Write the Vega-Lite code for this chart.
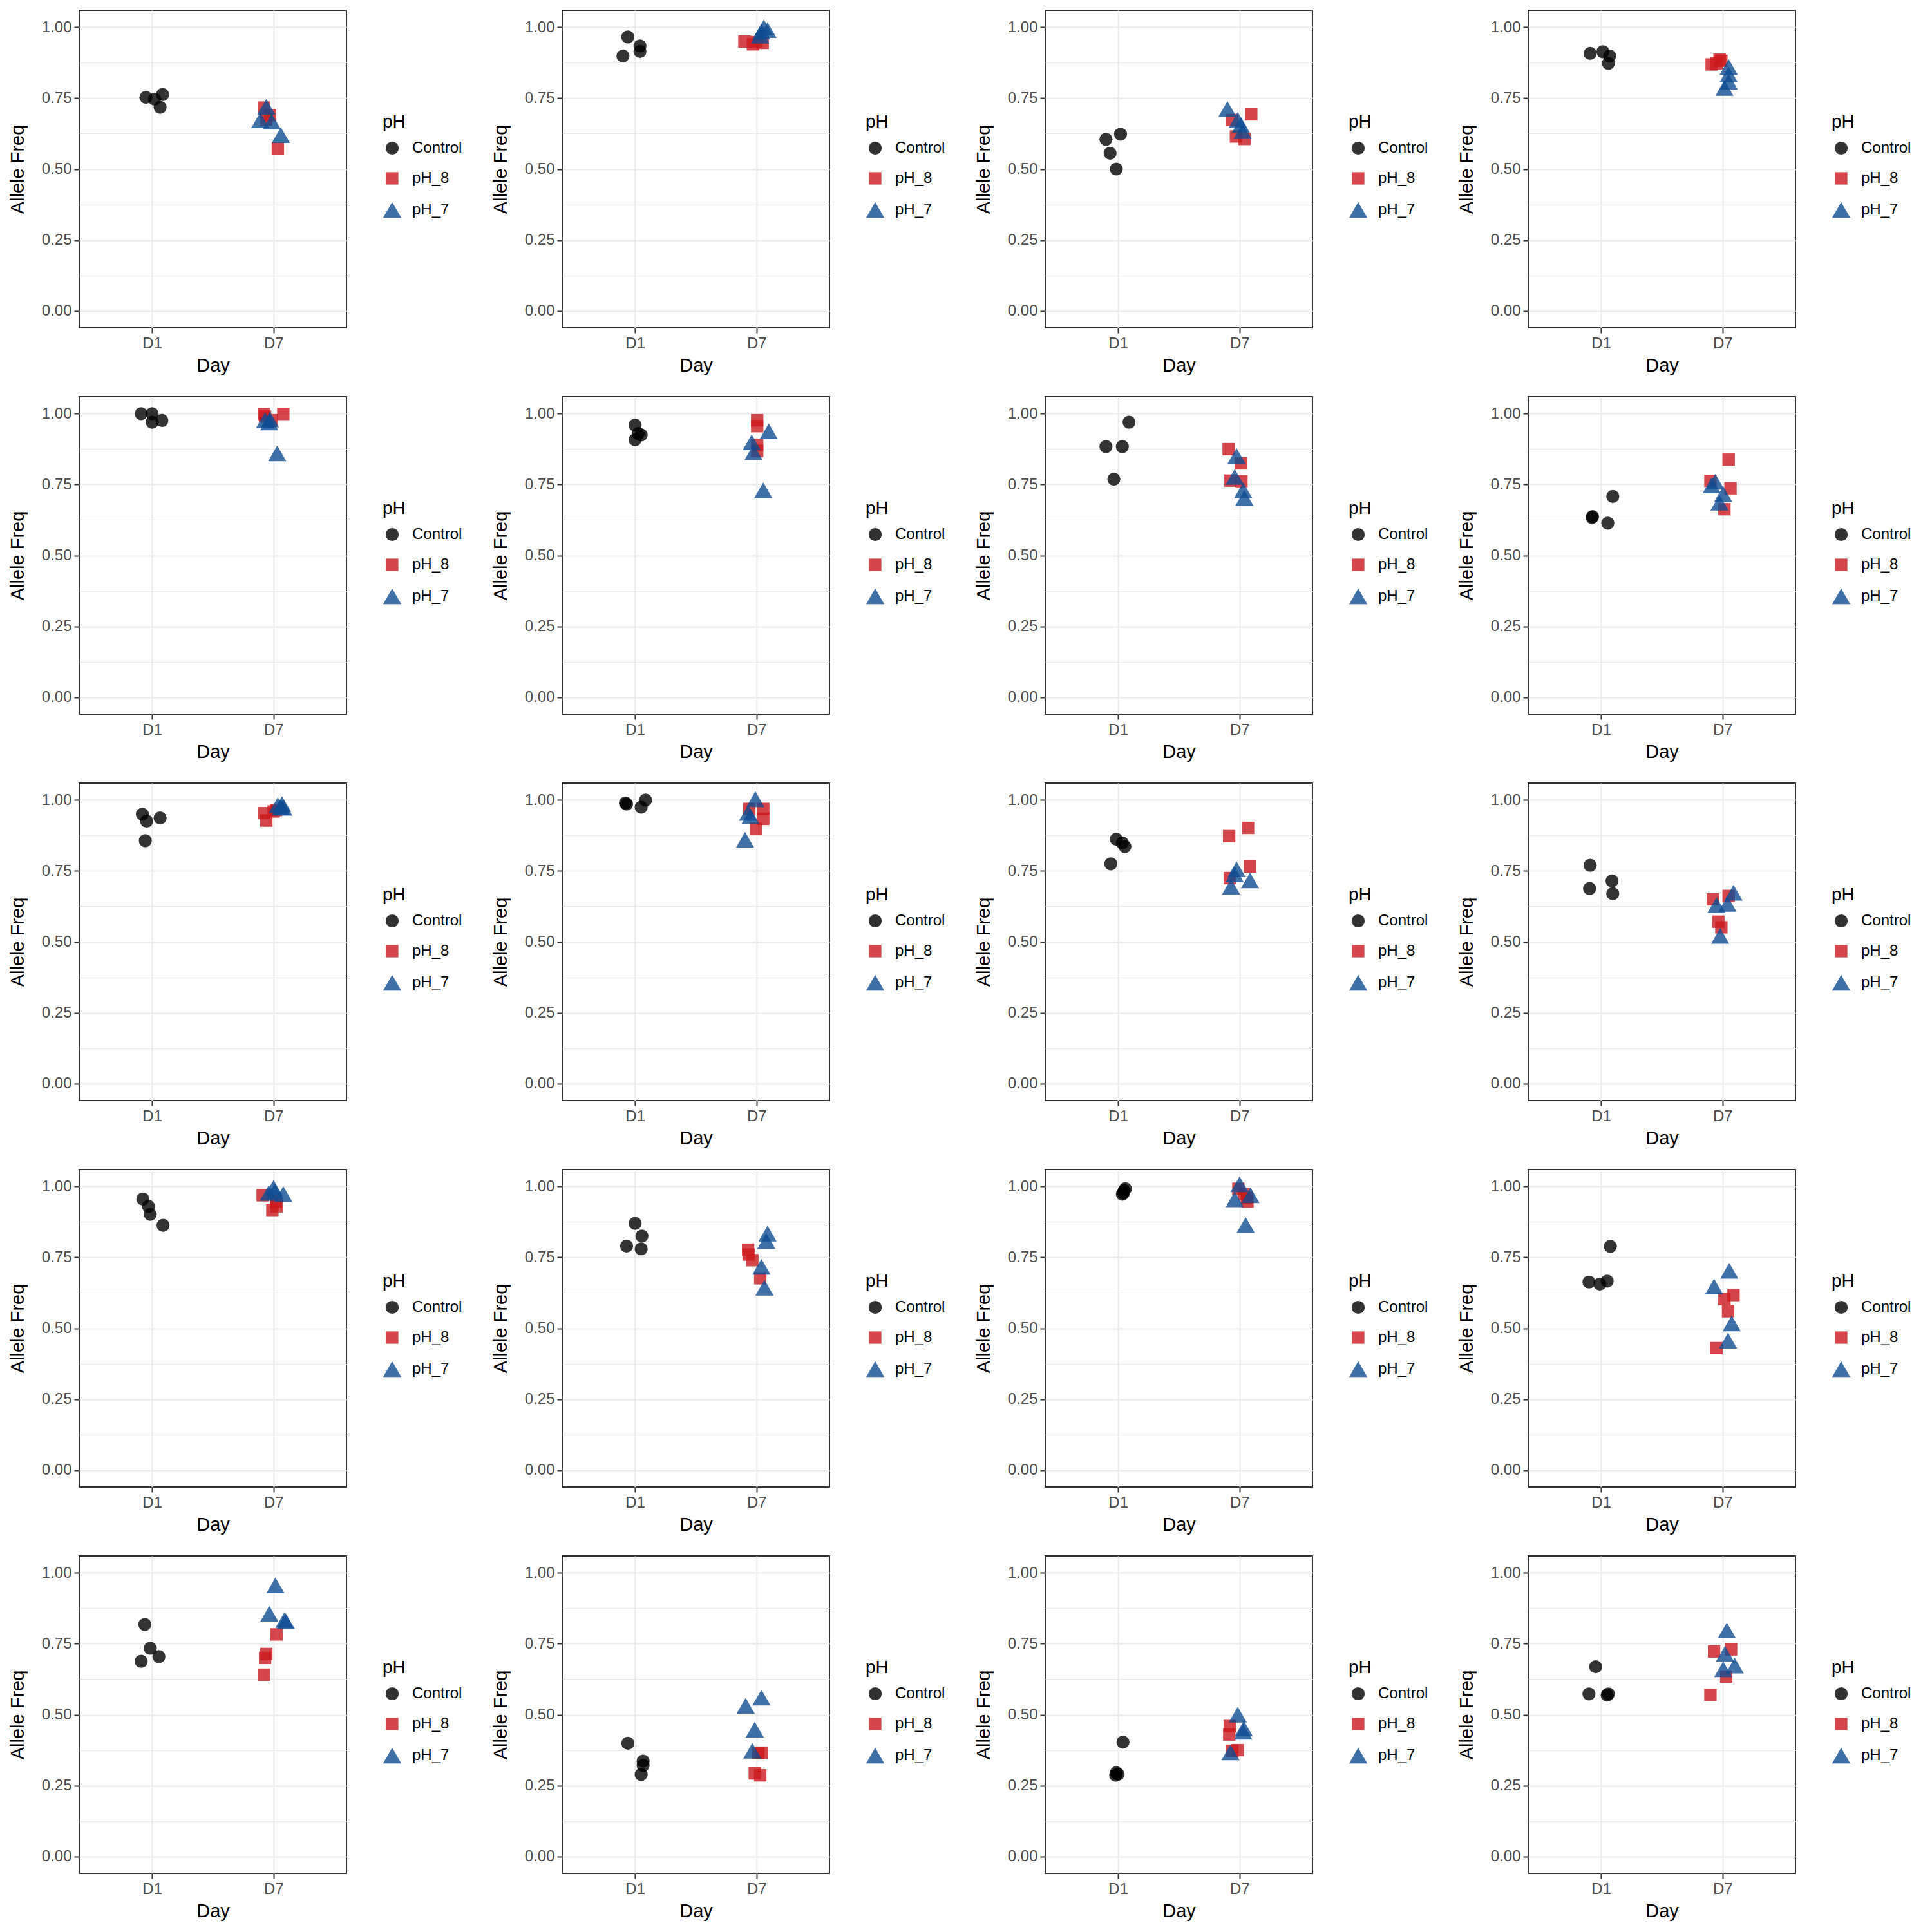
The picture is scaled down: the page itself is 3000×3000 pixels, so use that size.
{
"$schema":"https://vega.github.io/schema/vega-lite/v6.json",
"padding":{"left":12,"top":15,"right":5,"bottom":5},
"datasets":{"d":[
{"p":1,"pH":"Control","x":0.949,"y":0.753},{"p":1,"pH":"Control","x":1.02,"y":0.747},{"p":1,"pH":"Control","x":1.086,"y":0.763},{"p":1,"pH":"Control","x":1.066,"y":0.718},
{"p":1,"pH":"pH_8","x":1.92,"y":0.717},{"p":1,"pH":"pH_8","x":1.97,"y":0.69},{"p":1,"pH":"pH_8","x":1.94,"y":0.675},{"p":1,"pH":"pH_8","x":2.035,"y":0.573},
{"p":1,"pH":"pH_7","x":1.94,"y":0.72},{"p":1,"pH":"pH_7","x":1.89,"y":0.672},{"p":1,"pH":"pH_7","x":1.985,"y":0.668},{"p":1,"pH":"pH_7","x":2.06,"y":0.62},
{"p":2,"pH":"Control","x":0.94,"y":0.966},{"p":2,"pH":"Control","x":0.9,"y":0.899},{"p":2,"pH":"Control","x":1.04,"y":0.934},{"p":2,"pH":"Control","x":1.04,"y":0.915},
{"p":2,"pH":"pH_8","x":1.9,"y":0.95},{"p":2,"pH":"pH_8","x":1.97,"y":0.94},{"p":2,"pH":"pH_8","x":2.0,"y":0.948},{"p":2,"pH":"pH_8","x":2.05,"y":0.945},
{"p":2,"pH":"pH_7","x":2.06,"y":1.0},{"p":2,"pH":"pH_7","x":2.09,"y":0.99},{"p":2,"pH":"pH_7","x":2.03,"y":0.97},{"p":2,"pH":"pH_7","x":2.04,"y":0.985},
{"p":3,"pH":"Control","x":0.9,"y":0.605},{"p":3,"pH":"Control","x":1.02,"y":0.623},{"p":3,"pH":"Control","x":0.934,"y":0.556},{"p":3,"pH":"Control","x":0.985,"y":0.5},
{"p":3,"pH":"pH_8","x":1.94,"y":0.673},{"p":3,"pH":"pH_8","x":2.096,"y":0.693},{"p":3,"pH":"pH_8","x":1.97,"y":0.615},{"p":3,"pH":"pH_8","x":2.04,"y":0.606},
{"p":3,"pH":"pH_7","x":1.9,"y":0.712},{"p":3,"pH":"pH_7","x":1.985,"y":0.673},{"p":3,"pH":"pH_7","x":2.01,"y":0.656},{"p":3,"pH":"pH_7","x":2.025,"y":0.634},
{"p":4,"pH":"Control","x":0.91,"y":0.908},{"p":4,"pH":"Control","x":1.015,"y":0.914},{"p":4,"pH":"Control","x":1.07,"y":0.899},{"p":4,"pH":"Control","x":1.06,"y":0.873},
{"p":4,"pH":"pH_8","x":1.91,"y":0.869},{"p":4,"pH":"pH_8","x":1.975,"y":0.886},{"p":4,"pH":"pH_8","x":1.95,"y":0.873},{"p":4,"pH":"pH_8","x":1.99,"y":0.882},
{"p":4,"pH":"pH_7","x":2.05,"y":0.86},{"p":4,"pH":"pH_7","x":2.05,"y":0.834},{"p":4,"pH":"pH_7","x":2.05,"y":0.808},{"p":4,"pH":"pH_7","x":2.015,"y":0.786},
{"p":5,"pH":"Control","x":0.91,"y":1.0},{"p":5,"pH":"Control","x":1.0,"y":1.0},{"p":5,"pH":"Control","x":1.0,"y":0.97},{"p":5,"pH":"Control","x":1.08,"y":0.976},
{"p":5,"pH":"pH_8","x":1.92,"y":0.999},{"p":5,"pH":"pH_8","x":2.08,"y":0.999},{"p":5,"pH":"pH_8","x":1.985,"y":0.977},{"p":5,"pH":"pH_8","x":1.93,"y":0.99},
{"p":5,"pH":"pH_7","x":1.93,"y":0.977},{"p":5,"pH":"pH_7","x":1.97,"y":0.98},{"p":5,"pH":"pH_7","x":1.965,"y":0.969},{"p":5,"pH":"pH_7","x":2.03,"y":0.86},
{"p":6,"pH":"Control","x":1.0,"y":0.96},{"p":6,"pH":"Control","x":1.0,"y":0.908},{"p":6,"pH":"Control","x":1.025,"y":0.93},{"p":6,"pH":"Control","x":1.05,"y":0.925},
{"p":6,"pH":"pH_8","x":2.005,"y":0.977},{"p":6,"pH":"pH_8","x":2.005,"y":0.956},{"p":6,"pH":"pH_8","x":2.005,"y":0.89},{"p":6,"pH":"pH_8","x":2.005,"y":0.869},
{"p":6,"pH":"pH_7","x":2.1,"y":0.938},{"p":6,"pH":"pH_7","x":1.96,"y":0.899},{"p":6,"pH":"pH_7","x":1.975,"y":0.864},{"p":6,"pH":"pH_7","x":2.055,"y":0.73},
{"p":7,"pH":"Control","x":1.09,"y":0.97},{"p":7,"pH":"Control","x":0.9,"y":0.884},{"p":7,"pH":"Control","x":1.035,"y":0.884},{"p":7,"pH":"Control","x":0.965,"y":0.769},
{"p":7,"pH":"pH_8","x":1.91,"y":0.875},{"p":7,"pH":"pH_8","x":2.01,"y":0.825},{"p":7,"pH":"pH_8","x":1.925,"y":0.764},{"p":7,"pH":"pH_8","x":2.015,"y":0.762},
{"p":7,"pH":"pH_7","x":1.975,"y":0.851},{"p":7,"pH":"pH_7","x":1.96,"y":0.777},{"p":7,"pH":"pH_7","x":2.03,"y":0.73},{"p":7,"pH":"pH_7","x":2.04,"y":0.703},
{"p":8,"pH":"Control","x":0.93,"y":0.637},{"p":8,"pH":"Control","x":0.925,"y":0.634},{"p":8,"pH":"Control","x":1.055,"y":0.614},{"p":8,"pH":"Control","x":1.096,"y":0.708},
{"p":8,"pH":"pH_8","x":2.05,"y":0.838},{"p":8,"pH":"pH_8","x":1.9,"y":0.763},{"p":8,"pH":"pH_8","x":2.065,"y":0.737},{"p":8,"pH":"pH_8","x":2.015,"y":0.663},
{"p":8,"pH":"pH_7","x":1.94,"y":0.76},{"p":8,"pH":"pH_7","x":2.005,"y":0.717},{"p":8,"pH":"pH_7","x":1.975,"y":0.686},{"p":8,"pH":"pH_7","x":1.91,"y":0.747},
{"p":9,"pH":"Control","x":0.92,"y":0.95},{"p":9,"pH":"Control","x":0.955,"y":0.926},{"p":9,"pH":"Control","x":1.066,"y":0.937},{"p":9,"pH":"Control","x":0.944,"y":0.857},
{"p":9,"pH":"pH_8","x":1.92,"y":0.954},{"p":9,"pH":"pH_8","x":1.94,"y":0.928},{"p":9,"pH":"pH_8","x":2.02,"y":0.965},{"p":9,"pH":"pH_8","x":2.0,"y":0.96},
{"p":9,"pH":"pH_7","x":2.07,"y":0.986},{"p":9,"pH":"pH_7","x":2.08,"y":0.973},{"p":9,"pH":"pH_7","x":2.06,"y":0.975},{"p":9,"pH":"pH_7","x":2.035,"y":0.982},
{"p":10,"pH":"Control","x":0.92,"y":0.99},{"p":10,"pH":"Control","x":1.086,"y":1.0},{"p":10,"pH":"Control","x":1.05,"y":0.975},{"p":10,"pH":"Control","x":0.93,"y":0.986},
{"p":10,"pH":"pH_8","x":1.94,"y":0.969},{"p":10,"pH":"pH_8","x":2.055,"y":0.969},{"p":10,"pH":"pH_8","x":2.055,"y":0.934},{"p":10,"pH":"pH_8","x":1.995,"y":0.899},
{"p":10,"pH":"pH_7","x":1.99,"y":1.003},{"p":10,"pH":"pH_7","x":1.93,"y":0.955},{"p":10,"pH":"pH_7","x":1.95,"y":0.943},{"p":10,"pH":"pH_7","x":1.905,"y":0.86},
{"p":11,"pH":"Control","x":0.985,"y":0.862},{"p":11,"pH":"Control","x":1.035,"y":0.849},{"p":11,"pH":"Control","x":1.056,"y":0.836},{"p":11,"pH":"Control","x":0.94,"y":0.775},
{"p":11,"pH":"pH_8","x":1.914,"y":0.873},{"p":11,"pH":"pH_8","x":2.07,"y":0.902},{"p":11,"pH":"pH_8","x":2.086,"y":0.766},{"p":11,"pH":"pH_8","x":1.92,"y":0.725},
{"p":11,"pH":"pH_7","x":1.975,"y":0.756},{"p":11,"pH":"pH_7","x":1.93,"y":0.695},{"p":11,"pH":"pH_7","x":2.086,"y":0.717},{"p":11,"pH":"pH_7","x":1.96,"y":0.738},
{"p":12,"pH":"Control","x":0.91,"y":0.77},{"p":12,"pH":"Control","x":0.905,"y":0.688},{"p":12,"pH":"Control","x":1.09,"y":0.715},{"p":12,"pH":"Control","x":1.096,"y":0.67},
{"p":12,"pH":"pH_8","x":1.92,"y":0.65},{"p":12,"pH":"pH_8","x":2.05,"y":0.662},{"p":12,"pH":"pH_8","x":1.965,"y":0.571},{"p":12,"pH":"pH_8","x":1.99,"y":0.551},
{"p":12,"pH":"pH_7","x":1.95,"y":0.63},{"p":12,"pH":"pH_7","x":2.04,"y":0.634},{"p":12,"pH":"pH_7","x":2.09,"y":0.673},{"p":12,"pH":"pH_7","x":1.98,"y":0.521},
{"p":13,"pH":"Control","x":0.924,"y":0.956},{"p":13,"pH":"Control","x":0.97,"y":0.93},{"p":13,"pH":"Control","x":0.985,"y":0.902},{"p":13,"pH":"Control","x":1.09,"y":0.863},
{"p":13,"pH":"pH_8","x":1.91,"y":0.969},{"p":13,"pH":"pH_8","x":2.02,"y":0.947},{"p":13,"pH":"pH_8","x":1.99,"y":0.917},{"p":13,"pH":"pH_8","x":2.025,"y":0.93},
{"p":13,"pH":"pH_7","x":2.0,"y":0.995},{"p":13,"pH":"pH_7","x":2.08,"y":0.973},{"p":13,"pH":"pH_7","x":1.96,"y":0.977},{"p":13,"pH":"pH_7","x":2.01,"y":0.983},
{"p":14,"pH":"Control","x":1.0,"y":0.87},{"p":14,"pH":"Control","x":1.056,"y":0.825},{"p":14,"pH":"Control","x":0.93,"y":0.79},{"p":14,"pH":"Control","x":1.05,"y":0.78},
{"p":14,"pH":"pH_8","x":1.93,"y":0.777},{"p":14,"pH":"pH_8","x":1.935,"y":0.76},{"p":14,"pH":"pH_8","x":1.965,"y":0.74},{"p":14,"pH":"pH_8","x":2.03,"y":0.676},
{"p":14,"pH":"pH_7","x":2.09,"y":0.834},{"p":14,"pH":"pH_7","x":2.08,"y":0.808},{"p":14,"pH":"pH_7","x":2.04,"y":0.717},{"p":14,"pH":"pH_7","x":2.065,"y":0.643},
{"p":15,"pH":"Control","x":1.05,"y":0.986},{"p":15,"pH":"Control","x":1.045,"y":0.977},{"p":15,"pH":"Control","x":1.035,"y":0.973},{"p":15,"pH":"Control","x":1.06,"y":0.992},
{"p":15,"pH":"pH_8","x":1.99,"y":0.992},{"p":15,"pH":"pH_8","x":2.06,"y":0.96},{"p":15,"pH":"pH_8","x":2.035,"y":0.973},{"p":15,"pH":"pH_8","x":2.065,"y":0.947},
{"p":15,"pH":"pH_7","x":2.0,"y":1.008},{"p":15,"pH":"pH_7","x":1.96,"y":0.955},{"p":15,"pH":"pH_7","x":2.09,"y":0.969},{"p":15,"pH":"pH_7","x":2.05,"y":0.864},
{"p":16,"pH":"Control","x":1.076,"y":0.789},{"p":16,"pH":"Control","x":0.9,"y":0.663},{"p":16,"pH":"Control","x":0.99,"y":0.656},{"p":16,"pH":"Control","x":1.05,"y":0.666},
{"p":16,"pH":"pH_8","x":2.015,"y":0.603},{"p":16,"pH":"pH_8","x":2.09,"y":0.617},{"p":16,"pH":"pH_8","x":2.045,"y":0.56},{"p":16,"pH":"pH_8","x":1.95,"y":0.43},
{"p":16,"pH":"pH_7","x":2.055,"y":0.703},{"p":16,"pH":"pH_7","x":1.93,"y":0.647},{"p":16,"pH":"pH_7","x":2.075,"y":0.517},{"p":16,"pH":"pH_7","x":2.045,"y":0.456},
{"p":17,"pH":"Control","x":0.94,"y":0.818},{"p":17,"pH":"Control","x":0.985,"y":0.734},{"p":17,"pH":"Control","x":1.056,"y":0.705},{"p":17,"pH":"Control","x":0.91,"y":0.688},
{"p":17,"pH":"pH_8","x":2.025,"y":0.783},{"p":17,"pH":"pH_8","x":1.94,"y":0.714},{"p":17,"pH":"pH_8","x":1.93,"y":0.7},{"p":17,"pH":"pH_8","x":1.92,"y":0.641},
{"p":17,"pH":"pH_7","x":2.015,"y":0.956},{"p":17,"pH":"pH_7","x":1.965,"y":0.856},{"p":17,"pH":"pH_7","x":2.09,"y":0.834},{"p":17,"pH":"pH_7","x":2.1,"y":0.83},
{"p":18,"pH":"Control","x":0.94,"y":0.399},{"p":18,"pH":"Control","x":1.066,"y":0.336},{"p":18,"pH":"Control","x":1.066,"y":0.321},{"p":18,"pH":"Control","x":1.05,"y":0.289},
{"p":18,"pH":"pH_8","x":2.04,"y":0.366},{"p":18,"pH":"pH_8","x":2.015,"y":0.364},{"p":18,"pH":"pH_8","x":1.985,"y":0.293},{"p":18,"pH":"pH_8","x":2.03,"y":0.286},
{"p":18,"pH":"pH_7","x":1.91,"y":0.531},{"p":18,"pH":"pH_7","x":2.04,"y":0.56},{"p":18,"pH":"pH_7","x":1.985,"y":0.447},{"p":18,"pH":"pH_7","x":1.965,"y":0.373},
{"p":19,"pH":"Control","x":1.04,"y":0.403},{"p":19,"pH":"Control","x":0.985,"y":0.295},{"p":19,"pH":"Control","x":0.98,"y":0.286},{"p":19,"pH":"Control","x":1.0,"y":0.29},
{"p":19,"pH":"pH_8","x":1.92,"y":0.46},{"p":19,"pH":"pH_8","x":1.915,"y":0.43},{"p":19,"pH":"pH_8","x":1.985,"y":0.375},{"p":19,"pH":"pH_8","x":1.94,"y":0.373},
{"p":19,"pH":"pH_7","x":1.985,"y":0.5},{"p":19,"pH":"pH_7","x":2.035,"y":0.451},{"p":19,"pH":"pH_7","x":2.03,"y":0.44},{"p":19,"pH":"pH_7","x":1.925,"y":0.367},
{"p":20,"pH":"Control","x":0.955,"y":0.669},{"p":20,"pH":"Control","x":0.9,"y":0.573},{"p":20,"pH":"Control","x":1.05,"y":0.569},{"p":20,"pH":"Control","x":1.06,"y":0.573},
{"p":20,"pH":"pH_8","x":1.93,"y":0.723},{"p":20,"pH":"pH_8","x":2.07,"y":0.73},{"p":20,"pH":"pH_8","x":2.03,"y":0.634},{"p":20,"pH":"pH_8","x":1.9,"y":0.57},
{"p":20,"pH":"pH_7","x":2.035,"y":0.797},{"p":20,"pH":"pH_7","x":2.02,"y":0.715},{"p":20,"pH":"pH_7","x":2.005,"y":0.66},{"p":20,"pH":"pH_7","x":2.1,"y":0.673}
]},
"data":{"name":"d"},
"columns":4,
"bounds":"flush",
"spacing":{"row":107,"column":335},
"resolve":{"scale":{"color":"independent","shape":"independent","size":"independent"},"legend":{"color":"independent","shape":"independent","size":"independent"}},
"concat":[
{"transform":[{"filter":"datum.p==1"}],"width":415,"height":493,"mark":{"type":"point","filled":true,"opacity":0.8},"encoding":{"x":{"field":"x","type":"quantitative","scale":{"domain":[0.4,2.6],"nice":false,"zero":false},"axis":{"title":"Day","values":[1,2],"labelExpr":"datum.value==1?'D1':'D7'"}},"y":{"field":"y","type":"quantitative","scale":{"domain":[-0.06,1.06],"nice":false,"zero":false},"axis":{"title":"Allele Freq","values":[0,0.125,0.25,0.375,0.5,0.625,0.75,0.875,1],"labelOverlap":false,"labelExpr":"(datum.value*8)%2==1?'':format(datum.value,'.2f')","tickOpacity":{"condition":{"test":"(datum.value*8)%2==1","value":0},"value":1},"gridWidth":{"condition":{"test":"(datum.value*8)%2==1","value":1},"value":2}}},"color":{"field":"pH","type":"nominal","scale":{"domain":["Control","pH_8","pH_7"],"range":["#000000","#CB181D","#0F4C92"]},"legend":{"title":"pH","orient":"none","legendX":471,"legendY":160}},"shape":{"field":"pH","type":"nominal","scale":{"domain":["Control","pH_8","pH_7"],"range":["circle","square","triangle-up"]},"legend":{"title":"pH","orient":"none","legendX":471,"legendY":160}},"size":{"field":"pH","type":"nominal","scale":{"type":"ordinal","domain":["Control","pH_8","pH_7"],"range":[410,370,800]},"legend":{"title":"pH","orient":"none","legendX":471,"legendY":160}}}},
{"transform":[{"filter":"datum.p==2"}],"width":415,"height":493,"mark":{"type":"point","filled":true,"opacity":0.8},"encoding":{"x":{"field":"x","type":"quantitative","scale":{"domain":[0.4,2.6],"nice":false,"zero":false},"axis":{"title":"Day","values":[1,2],"labelExpr":"datum.value==1?'D1':'D7'"}},"y":{"field":"y","type":"quantitative","scale":{"domain":[-0.06,1.06],"nice":false,"zero":false},"axis":{"title":"Allele Freq","values":[0,0.125,0.25,0.375,0.5,0.625,0.75,0.875,1],"labelOverlap":false,"labelExpr":"(datum.value*8)%2==1?'':format(datum.value,'.2f')","tickOpacity":{"condition":{"test":"(datum.value*8)%2==1","value":0},"value":1},"gridWidth":{"condition":{"test":"(datum.value*8)%2==1","value":1},"value":2}}},"color":{"field":"pH","type":"nominal","scale":{"domain":["Control","pH_8","pH_7"],"range":["#000000","#CB181D","#0F4C92"]},"legend":{"title":"pH","orient":"none","legendX":471,"legendY":160}},"shape":{"field":"pH","type":"nominal","scale":{"domain":["Control","pH_8","pH_7"],"range":["circle","square","triangle-up"]},"legend":{"title":"pH","orient":"none","legendX":471,"legendY":160}},"size":{"field":"pH","type":"nominal","scale":{"type":"ordinal","domain":["Control","pH_8","pH_7"],"range":[410,370,800]},"legend":{"title":"pH","orient":"none","legendX":471,"legendY":160}}}},
{"transform":[{"filter":"datum.p==3"}],"width":415,"height":493,"mark":{"type":"point","filled":true,"opacity":0.8},"encoding":{"x":{"field":"x","type":"quantitative","scale":{"domain":[0.4,2.6],"nice":false,"zero":false},"axis":{"title":"Day","values":[1,2],"labelExpr":"datum.value==1?'D1':'D7'"}},"y":{"field":"y","type":"quantitative","scale":{"domain":[-0.06,1.06],"nice":false,"zero":false},"axis":{"title":"Allele Freq","values":[0,0.125,0.25,0.375,0.5,0.625,0.75,0.875,1],"labelOverlap":false,"labelExpr":"(datum.value*8)%2==1?'':format(datum.value,'.2f')","tickOpacity":{"condition":{"test":"(datum.value*8)%2==1","value":0},"value":1},"gridWidth":{"condition":{"test":"(datum.value*8)%2==1","value":1},"value":2}}},"color":{"field":"pH","type":"nominal","scale":{"domain":["Control","pH_8","pH_7"],"range":["#000000","#CB181D","#0F4C92"]},"legend":{"title":"pH","orient":"none","legendX":471,"legendY":160}},"shape":{"field":"pH","type":"nominal","scale":{"domain":["Control","pH_8","pH_7"],"range":["circle","square","triangle-up"]},"legend":{"title":"pH","orient":"none","legendX":471,"legendY":160}},"size":{"field":"pH","type":"nominal","scale":{"type":"ordinal","domain":["Control","pH_8","pH_7"],"range":[410,370,800]},"legend":{"title":"pH","orient":"none","legendX":471,"legendY":160}}}},
{"transform":[{"filter":"datum.p==4"}],"width":415,"height":493,"mark":{"type":"point","filled":true,"opacity":0.8},"encoding":{"x":{"field":"x","type":"quantitative","scale":{"domain":[0.4,2.6],"nice":false,"zero":false},"axis":{"title":"Day","values":[1,2],"labelExpr":"datum.value==1?'D1':'D7'"}},"y":{"field":"y","type":"quantitative","scale":{"domain":[-0.06,1.06],"nice":false,"zero":false},"axis":{"title":"Allele Freq","values":[0,0.125,0.25,0.375,0.5,0.625,0.75,0.875,1],"labelOverlap":false,"labelExpr":"(datum.value*8)%2==1?'':format(datum.value,'.2f')","tickOpacity":{"condition":{"test":"(datum.value*8)%2==1","value":0},"value":1},"gridWidth":{"condition":{"test":"(datum.value*8)%2==1","value":1},"value":2}}},"color":{"field":"pH","type":"nominal","scale":{"domain":["Control","pH_8","pH_7"],"range":["#000000","#CB181D","#0F4C92"]},"legend":{"title":"pH","orient":"none","legendX":471,"legendY":160}},"shape":{"field":"pH","type":"nominal","scale":{"domain":["Control","pH_8","pH_7"],"range":["circle","square","triangle-up"]},"legend":{"title":"pH","orient":"none","legendX":471,"legendY":160}},"size":{"field":"pH","type":"nominal","scale":{"type":"ordinal","domain":["Control","pH_8","pH_7"],"range":[410,370,800]},"legend":{"title":"pH","orient":"none","legendX":471,"legendY":160}}}},
{"transform":[{"filter":"datum.p==5"}],"width":415,"height":493,"mark":{"type":"point","filled":true,"opacity":0.8},"encoding":{"x":{"field":"x","type":"quantitative","scale":{"domain":[0.4,2.6],"nice":false,"zero":false},"axis":{"title":"Day","values":[1,2],"labelExpr":"datum.value==1?'D1':'D7'"}},"y":{"field":"y","type":"quantitative","scale":{"domain":[-0.06,1.06],"nice":false,"zero":false},"axis":{"title":"Allele Freq","values":[0,0.125,0.25,0.375,0.5,0.625,0.75,0.875,1],"labelOverlap":false,"labelExpr":"(datum.value*8)%2==1?'':format(datum.value,'.2f')","tickOpacity":{"condition":{"test":"(datum.value*8)%2==1","value":0},"value":1},"gridWidth":{"condition":{"test":"(datum.value*8)%2==1","value":1},"value":2}}},"color":{"field":"pH","type":"nominal","scale":{"domain":["Control","pH_8","pH_7"],"range":["#000000","#CB181D","#0F4C92"]},"legend":{"title":"pH","orient":"none","legendX":471,"legendY":160}},"shape":{"field":"pH","type":"nominal","scale":{"domain":["Control","pH_8","pH_7"],"range":["circle","square","triangle-up"]},"legend":{"title":"pH","orient":"none","legendX":471,"legendY":160}},"size":{"field":"pH","type":"nominal","scale":{"type":"ordinal","domain":["Control","pH_8","pH_7"],"range":[410,370,800]},"legend":{"title":"pH","orient":"none","legendX":471,"legendY":160}}}},
{"transform":[{"filter":"datum.p==6"}],"width":415,"height":493,"mark":{"type":"point","filled":true,"opacity":0.8},"encoding":{"x":{"field":"x","type":"quantitative","scale":{"domain":[0.4,2.6],"nice":false,"zero":false},"axis":{"title":"Day","values":[1,2],"labelExpr":"datum.value==1?'D1':'D7'"}},"y":{"field":"y","type":"quantitative","scale":{"domain":[-0.06,1.06],"nice":false,"zero":false},"axis":{"title":"Allele Freq","values":[0,0.125,0.25,0.375,0.5,0.625,0.75,0.875,1],"labelOverlap":false,"labelExpr":"(datum.value*8)%2==1?'':format(datum.value,'.2f')","tickOpacity":{"condition":{"test":"(datum.value*8)%2==1","value":0},"value":1},"gridWidth":{"condition":{"test":"(datum.value*8)%2==1","value":1},"value":2}}},"color":{"field":"pH","type":"nominal","scale":{"domain":["Control","pH_8","pH_7"],"range":["#000000","#CB181D","#0F4C92"]},"legend":{"title":"pH","orient":"none","legendX":471,"legendY":160}},"shape":{"field":"pH","type":"nominal","scale":{"domain":["Control","pH_8","pH_7"],"range":["circle","square","triangle-up"]},"legend":{"title":"pH","orient":"none","legendX":471,"legendY":160}},"size":{"field":"pH","type":"nominal","scale":{"type":"ordinal","domain":["Control","pH_8","pH_7"],"range":[410,370,800]},"legend":{"title":"pH","orient":"none","legendX":471,"legendY":160}}}},
{"transform":[{"filter":"datum.p==7"}],"width":415,"height":493,"mark":{"type":"point","filled":true,"opacity":0.8},"encoding":{"x":{"field":"x","type":"quantitative","scale":{"domain":[0.4,2.6],"nice":false,"zero":false},"axis":{"title":"Day","values":[1,2],"labelExpr":"datum.value==1?'D1':'D7'"}},"y":{"field":"y","type":"quantitative","scale":{"domain":[-0.06,1.06],"nice":false,"zero":false},"axis":{"title":"Allele Freq","values":[0,0.125,0.25,0.375,0.5,0.625,0.75,0.875,1],"labelOverlap":false,"labelExpr":"(datum.value*8)%2==1?'':format(datum.value,'.2f')","tickOpacity":{"condition":{"test":"(datum.value*8)%2==1","value":0},"value":1},"gridWidth":{"condition":{"test":"(datum.value*8)%2==1","value":1},"value":2}}},"color":{"field":"pH","type":"nominal","scale":{"domain":["Control","pH_8","pH_7"],"range":["#000000","#CB181D","#0F4C92"]},"legend":{"title":"pH","orient":"none","legendX":471,"legendY":160}},"shape":{"field":"pH","type":"nominal","scale":{"domain":["Control","pH_8","pH_7"],"range":["circle","square","triangle-up"]},"legend":{"title":"pH","orient":"none","legendX":471,"legendY":160}},"size":{"field":"pH","type":"nominal","scale":{"type":"ordinal","domain":["Control","pH_8","pH_7"],"range":[410,370,800]},"legend":{"title":"pH","orient":"none","legendX":471,"legendY":160}}}},
{"transform":[{"filter":"datum.p==8"}],"width":415,"height":493,"mark":{"type":"point","filled":true,"opacity":0.8},"encoding":{"x":{"field":"x","type":"quantitative","scale":{"domain":[0.4,2.6],"nice":false,"zero":false},"axis":{"title":"Day","values":[1,2],"labelExpr":"datum.value==1?'D1':'D7'"}},"y":{"field":"y","type":"quantitative","scale":{"domain":[-0.06,1.06],"nice":false,"zero":false},"axis":{"title":"Allele Freq","values":[0,0.125,0.25,0.375,0.5,0.625,0.75,0.875,1],"labelOverlap":false,"labelExpr":"(datum.value*8)%2==1?'':format(datum.value,'.2f')","tickOpacity":{"condition":{"test":"(datum.value*8)%2==1","value":0},"value":1},"gridWidth":{"condition":{"test":"(datum.value*8)%2==1","value":1},"value":2}}},"color":{"field":"pH","type":"nominal","scale":{"domain":["Control","pH_8","pH_7"],"range":["#000000","#CB181D","#0F4C92"]},"legend":{"title":"pH","orient":"none","legendX":471,"legendY":160}},"shape":{"field":"pH","type":"nominal","scale":{"domain":["Control","pH_8","pH_7"],"range":["circle","square","triangle-up"]},"legend":{"title":"pH","orient":"none","legendX":471,"legendY":160}},"size":{"field":"pH","type":"nominal","scale":{"type":"ordinal","domain":["Control","pH_8","pH_7"],"range":[410,370,800]},"legend":{"title":"pH","orient":"none","legendX":471,"legendY":160}}}},
{"transform":[{"filter":"datum.p==9"}],"width":415,"height":493,"mark":{"type":"point","filled":true,"opacity":0.8},"encoding":{"x":{"field":"x","type":"quantitative","scale":{"domain":[0.4,2.6],"nice":false,"zero":false},"axis":{"title":"Day","values":[1,2],"labelExpr":"datum.value==1?'D1':'D7'"}},"y":{"field":"y","type":"quantitative","scale":{"domain":[-0.06,1.06],"nice":false,"zero":false},"axis":{"title":"Allele Freq","values":[0,0.125,0.25,0.375,0.5,0.625,0.75,0.875,1],"labelOverlap":false,"labelExpr":"(datum.value*8)%2==1?'':format(datum.value,'.2f')","tickOpacity":{"condition":{"test":"(datum.value*8)%2==1","value":0},"value":1},"gridWidth":{"condition":{"test":"(datum.value*8)%2==1","value":1},"value":2}}},"color":{"field":"pH","type":"nominal","scale":{"domain":["Control","pH_8","pH_7"],"range":["#000000","#CB181D","#0F4C92"]},"legend":{"title":"pH","orient":"none","legendX":471,"legendY":160}},"shape":{"field":"pH","type":"nominal","scale":{"domain":["Control","pH_8","pH_7"],"range":["circle","square","triangle-up"]},"legend":{"title":"pH","orient":"none","legendX":471,"legendY":160}},"size":{"field":"pH","type":"nominal","scale":{"type":"ordinal","domain":["Control","pH_8","pH_7"],"range":[410,370,800]},"legend":{"title":"pH","orient":"none","legendX":471,"legendY":160}}}},
{"transform":[{"filter":"datum.p==10"}],"width":415,"height":493,"mark":{"type":"point","filled":true,"opacity":0.8},"encoding":{"x":{"field":"x","type":"quantitative","scale":{"domain":[0.4,2.6],"nice":false,"zero":false},"axis":{"title":"Day","values":[1,2],"labelExpr":"datum.value==1?'D1':'D7'"}},"y":{"field":"y","type":"quantitative","scale":{"domain":[-0.06,1.06],"nice":false,"zero":false},"axis":{"title":"Allele Freq","values":[0,0.125,0.25,0.375,0.5,0.625,0.75,0.875,1],"labelOverlap":false,"labelExpr":"(datum.value*8)%2==1?'':format(datum.value,'.2f')","tickOpacity":{"condition":{"test":"(datum.value*8)%2==1","value":0},"value":1},"gridWidth":{"condition":{"test":"(datum.value*8)%2==1","value":1},"value":2}}},"color":{"field":"pH","type":"nominal","scale":{"domain":["Control","pH_8","pH_7"],"range":["#000000","#CB181D","#0F4C92"]},"legend":{"title":"pH","orient":"none","legendX":471,"legendY":160}},"shape":{"field":"pH","type":"nominal","scale":{"domain":["Control","pH_8","pH_7"],"range":["circle","square","triangle-up"]},"legend":{"title":"pH","orient":"none","legendX":471,"legendY":160}},"size":{"field":"pH","type":"nominal","scale":{"type":"ordinal","domain":["Control","pH_8","pH_7"],"range":[410,370,800]},"legend":{"title":"pH","orient":"none","legendX":471,"legendY":160}}}},
{"transform":[{"filter":"datum.p==11"}],"width":415,"height":493,"mark":{"type":"point","filled":true,"opacity":0.8},"encoding":{"x":{"field":"x","type":"quantitative","scale":{"domain":[0.4,2.6],"nice":false,"zero":false},"axis":{"title":"Day","values":[1,2],"labelExpr":"datum.value==1?'D1':'D7'"}},"y":{"field":"y","type":"quantitative","scale":{"domain":[-0.06,1.06],"nice":false,"zero":false},"axis":{"title":"Allele Freq","values":[0,0.125,0.25,0.375,0.5,0.625,0.75,0.875,1],"labelOverlap":false,"labelExpr":"(datum.value*8)%2==1?'':format(datum.value,'.2f')","tickOpacity":{"condition":{"test":"(datum.value*8)%2==1","value":0},"value":1},"gridWidth":{"condition":{"test":"(datum.value*8)%2==1","value":1},"value":2}}},"color":{"field":"pH","type":"nominal","scale":{"domain":["Control","pH_8","pH_7"],"range":["#000000","#CB181D","#0F4C92"]},"legend":{"title":"pH","orient":"none","legendX":471,"legendY":160}},"shape":{"field":"pH","type":"nominal","scale":{"domain":["Control","pH_8","pH_7"],"range":["circle","square","triangle-up"]},"legend":{"title":"pH","orient":"none","legendX":471,"legendY":160}},"size":{"field":"pH","type":"nominal","scale":{"type":"ordinal","domain":["Control","pH_8","pH_7"],"range":[410,370,800]},"legend":{"title":"pH","orient":"none","legendX":471,"legendY":160}}}},
{"transform":[{"filter":"datum.p==12"}],"width":415,"height":493,"mark":{"type":"point","filled":true,"opacity":0.8},"encoding":{"x":{"field":"x","type":"quantitative","scale":{"domain":[0.4,2.6],"nice":false,"zero":false},"axis":{"title":"Day","values":[1,2],"labelExpr":"datum.value==1?'D1':'D7'"}},"y":{"field":"y","type":"quantitative","scale":{"domain":[-0.06,1.06],"nice":false,"zero":false},"axis":{"title":"Allele Freq","values":[0,0.125,0.25,0.375,0.5,0.625,0.75,0.875,1],"labelOverlap":false,"labelExpr":"(datum.value*8)%2==1?'':format(datum.value,'.2f')","tickOpacity":{"condition":{"test":"(datum.value*8)%2==1","value":0},"value":1},"gridWidth":{"condition":{"test":"(datum.value*8)%2==1","value":1},"value":2}}},"color":{"field":"pH","type":"nominal","scale":{"domain":["Control","pH_8","pH_7"],"range":["#000000","#CB181D","#0F4C92"]},"legend":{"title":"pH","orient":"none","legendX":471,"legendY":160}},"shape":{"field":"pH","type":"nominal","scale":{"domain":["Control","pH_8","pH_7"],"range":["circle","square","triangle-up"]},"legend":{"title":"pH","orient":"none","legendX":471,"legendY":160}},"size":{"field":"pH","type":"nominal","scale":{"type":"ordinal","domain":["Control","pH_8","pH_7"],"range":[410,370,800]},"legend":{"title":"pH","orient":"none","legendX":471,"legendY":160}}}},
{"transform":[{"filter":"datum.p==13"}],"width":415,"height":493,"mark":{"type":"point","filled":true,"opacity":0.8},"encoding":{"x":{"field":"x","type":"quantitative","scale":{"domain":[0.4,2.6],"nice":false,"zero":false},"axis":{"title":"Day","values":[1,2],"labelExpr":"datum.value==1?'D1':'D7'"}},"y":{"field":"y","type":"quantitative","scale":{"domain":[-0.06,1.06],"nice":false,"zero":false},"axis":{"title":"Allele Freq","values":[0,0.125,0.25,0.375,0.5,0.625,0.75,0.875,1],"labelOverlap":false,"labelExpr":"(datum.value*8)%2==1?'':format(datum.value,'.2f')","tickOpacity":{"condition":{"test":"(datum.value*8)%2==1","value":0},"value":1},"gridWidth":{"condition":{"test":"(datum.value*8)%2==1","value":1},"value":2}}},"color":{"field":"pH","type":"nominal","scale":{"domain":["Control","pH_8","pH_7"],"range":["#000000","#CB181D","#0F4C92"]},"legend":{"title":"pH","orient":"none","legendX":471,"legendY":160}},"shape":{"field":"pH","type":"nominal","scale":{"domain":["Control","pH_8","pH_7"],"range":["circle","square","triangle-up"]},"legend":{"title":"pH","orient":"none","legendX":471,"legendY":160}},"size":{"field":"pH","type":"nominal","scale":{"type":"ordinal","domain":["Control","pH_8","pH_7"],"range":[410,370,800]},"legend":{"title":"pH","orient":"none","legendX":471,"legendY":160}}}},
{"transform":[{"filter":"datum.p==14"}],"width":415,"height":493,"mark":{"type":"point","filled":true,"opacity":0.8},"encoding":{"x":{"field":"x","type":"quantitative","scale":{"domain":[0.4,2.6],"nice":false,"zero":false},"axis":{"title":"Day","values":[1,2],"labelExpr":"datum.value==1?'D1':'D7'"}},"y":{"field":"y","type":"quantitative","scale":{"domain":[-0.06,1.06],"nice":false,"zero":false},"axis":{"title":"Allele Freq","values":[0,0.125,0.25,0.375,0.5,0.625,0.75,0.875,1],"labelOverlap":false,"labelExpr":"(datum.value*8)%2==1?'':format(datum.value,'.2f')","tickOpacity":{"condition":{"test":"(datum.value*8)%2==1","value":0},"value":1},"gridWidth":{"condition":{"test":"(datum.value*8)%2==1","value":1},"value":2}}},"color":{"field":"pH","type":"nominal","scale":{"domain":["Control","pH_8","pH_7"],"range":["#000000","#CB181D","#0F4C92"]},"legend":{"title":"pH","orient":"none","legendX":471,"legendY":160}},"shape":{"field":"pH","type":"nominal","scale":{"domain":["Control","pH_8","pH_7"],"range":["circle","square","triangle-up"]},"legend":{"title":"pH","orient":"none","legendX":471,"legendY":160}},"size":{"field":"pH","type":"nominal","scale":{"type":"ordinal","domain":["Control","pH_8","pH_7"],"range":[410,370,800]},"legend":{"title":"pH","orient":"none","legendX":471,"legendY":160}}}},
{"transform":[{"filter":"datum.p==15"}],"width":415,"height":493,"mark":{"type":"point","filled":true,"opacity":0.8},"encoding":{"x":{"field":"x","type":"quantitative","scale":{"domain":[0.4,2.6],"nice":false,"zero":false},"axis":{"title":"Day","values":[1,2],"labelExpr":"datum.value==1?'D1':'D7'"}},"y":{"field":"y","type":"quantitative","scale":{"domain":[-0.06,1.06],"nice":false,"zero":false},"axis":{"title":"Allele Freq","values":[0,0.125,0.25,0.375,0.5,0.625,0.75,0.875,1],"labelOverlap":false,"labelExpr":"(datum.value*8)%2==1?'':format(datum.value,'.2f')","tickOpacity":{"condition":{"test":"(datum.value*8)%2==1","value":0},"value":1},"gridWidth":{"condition":{"test":"(datum.value*8)%2==1","value":1},"value":2}}},"color":{"field":"pH","type":"nominal","scale":{"domain":["Control","pH_8","pH_7"],"range":["#000000","#CB181D","#0F4C92"]},"legend":{"title":"pH","orient":"none","legendX":471,"legendY":160}},"shape":{"field":"pH","type":"nominal","scale":{"domain":["Control","pH_8","pH_7"],"range":["circle","square","triangle-up"]},"legend":{"title":"pH","orient":"none","legendX":471,"legendY":160}},"size":{"field":"pH","type":"nominal","scale":{"type":"ordinal","domain":["Control","pH_8","pH_7"],"range":[410,370,800]},"legend":{"title":"pH","orient":"none","legendX":471,"legendY":160}}}},
{"transform":[{"filter":"datum.p==16"}],"width":415,"height":493,"mark":{"type":"point","filled":true,"opacity":0.8},"encoding":{"x":{"field":"x","type":"quantitative","scale":{"domain":[0.4,2.6],"nice":false,"zero":false},"axis":{"title":"Day","values":[1,2],"labelExpr":"datum.value==1?'D1':'D7'"}},"y":{"field":"y","type":"quantitative","scale":{"domain":[-0.06,1.06],"nice":false,"zero":false},"axis":{"title":"Allele Freq","values":[0,0.125,0.25,0.375,0.5,0.625,0.75,0.875,1],"labelOverlap":false,"labelExpr":"(datum.value*8)%2==1?'':format(datum.value,'.2f')","tickOpacity":{"condition":{"test":"(datum.value*8)%2==1","value":0},"value":1},"gridWidth":{"condition":{"test":"(datum.value*8)%2==1","value":1},"value":2}}},"color":{"field":"pH","type":"nominal","scale":{"domain":["Control","pH_8","pH_7"],"range":["#000000","#CB181D","#0F4C92"]},"legend":{"title":"pH","orient":"none","legendX":471,"legendY":160}},"shape":{"field":"pH","type":"nominal","scale":{"domain":["Control","pH_8","pH_7"],"range":["circle","square","triangle-up"]},"legend":{"title":"pH","orient":"none","legendX":471,"legendY":160}},"size":{"field":"pH","type":"nominal","scale":{"type":"ordinal","domain":["Control","pH_8","pH_7"],"range":[410,370,800]},"legend":{"title":"pH","orient":"none","legendX":471,"legendY":160}}}},
{"transform":[{"filter":"datum.p==17"}],"width":415,"height":493,"mark":{"type":"point","filled":true,"opacity":0.8},"encoding":{"x":{"field":"x","type":"quantitative","scale":{"domain":[0.4,2.6],"nice":false,"zero":false},"axis":{"title":"Day","values":[1,2],"labelExpr":"datum.value==1?'D1':'D7'"}},"y":{"field":"y","type":"quantitative","scale":{"domain":[-0.06,1.06],"nice":false,"zero":false},"axis":{"title":"Allele Freq","values":[0,0.125,0.25,0.375,0.5,0.625,0.75,0.875,1],"labelOverlap":false,"labelExpr":"(datum.value*8)%2==1?'':format(datum.value,'.2f')","tickOpacity":{"condition":{"test":"(datum.value*8)%2==1","value":0},"value":1},"gridWidth":{"condition":{"test":"(datum.value*8)%2==1","value":1},"value":2}}},"color":{"field":"pH","type":"nominal","scale":{"domain":["Control","pH_8","pH_7"],"range":["#000000","#CB181D","#0F4C92"]},"legend":{"title":"pH","orient":"none","legendX":471,"legendY":160}},"shape":{"field":"pH","type":"nominal","scale":{"domain":["Control","pH_8","pH_7"],"range":["circle","square","triangle-up"]},"legend":{"title":"pH","orient":"none","legendX":471,"legendY":160}},"size":{"field":"pH","type":"nominal","scale":{"type":"ordinal","domain":["Control","pH_8","pH_7"],"range":[410,370,800]},"legend":{"title":"pH","orient":"none","legendX":471,"legendY":160}}}},
{"transform":[{"filter":"datum.p==18"}],"width":415,"height":493,"mark":{"type":"point","filled":true,"opacity":0.8},"encoding":{"x":{"field":"x","type":"quantitative","scale":{"domain":[0.4,2.6],"nice":false,"zero":false},"axis":{"title":"Day","values":[1,2],"labelExpr":"datum.value==1?'D1':'D7'"}},"y":{"field":"y","type":"quantitative","scale":{"domain":[-0.06,1.06],"nice":false,"zero":false},"axis":{"title":"Allele Freq","values":[0,0.125,0.25,0.375,0.5,0.625,0.75,0.875,1],"labelOverlap":false,"labelExpr":"(datum.value*8)%2==1?'':format(datum.value,'.2f')","tickOpacity":{"condition":{"test":"(datum.value*8)%2==1","value":0},"value":1},"gridWidth":{"condition":{"test":"(datum.value*8)%2==1","value":1},"value":2}}},"color":{"field":"pH","type":"nominal","scale":{"domain":["Control","pH_8","pH_7"],"range":["#000000","#CB181D","#0F4C92"]},"legend":{"title":"pH","orient":"none","legendX":471,"legendY":160}},"shape":{"field":"pH","type":"nominal","scale":{"domain":["Control","pH_8","pH_7"],"range":["circle","square","triangle-up"]},"legend":{"title":"pH","orient":"none","legendX":471,"legendY":160}},"size":{"field":"pH","type":"nominal","scale":{"type":"ordinal","domain":["Control","pH_8","pH_7"],"range":[410,370,800]},"legend":{"title":"pH","orient":"none","legendX":471,"legendY":160}}}},
{"transform":[{"filter":"datum.p==19"}],"width":415,"height":493,"mark":{"type":"point","filled":true,"opacity":0.8},"encoding":{"x":{"field":"x","type":"quantitative","scale":{"domain":[0.4,2.6],"nice":false,"zero":false},"axis":{"title":"Day","values":[1,2],"labelExpr":"datum.value==1?'D1':'D7'"}},"y":{"field":"y","type":"quantitative","scale":{"domain":[-0.06,1.06],"nice":false,"zero":false},"axis":{"title":"Allele Freq","values":[0,0.125,0.25,0.375,0.5,0.625,0.75,0.875,1],"labelOverlap":false,"labelExpr":"(datum.value*8)%2==1?'':format(datum.value,'.2f')","tickOpacity":{"condition":{"test":"(datum.value*8)%2==1","value":0},"value":1},"gridWidth":{"condition":{"test":"(datum.value*8)%2==1","value":1},"value":2}}},"color":{"field":"pH","type":"nominal","scale":{"domain":["Control","pH_8","pH_7"],"range":["#000000","#CB181D","#0F4C92"]},"legend":{"title":"pH","orient":"none","legendX":471,"legendY":160}},"shape":{"field":"pH","type":"nominal","scale":{"domain":["Control","pH_8","pH_7"],"range":["circle","square","triangle-up"]},"legend":{"title":"pH","orient":"none","legendX":471,"legendY":160}},"size":{"field":"pH","type":"nominal","scale":{"type":"ordinal","domain":["Control","pH_8","pH_7"],"range":[410,370,800]},"legend":{"title":"pH","orient":"none","legendX":471,"legendY":160}}}},
{"transform":[{"filter":"datum.p==20"}],"width":415,"height":493,"mark":{"type":"point","filled":true,"opacity":0.8},"encoding":{"x":{"field":"x","type":"quantitative","scale":{"domain":[0.4,2.6],"nice":false,"zero":false},"axis":{"title":"Day","values":[1,2],"labelExpr":"datum.value==1?'D1':'D7'"}},"y":{"field":"y","type":"quantitative","scale":{"domain":[-0.06,1.06],"nice":false,"zero":false},"axis":{"title":"Allele Freq","values":[0,0.125,0.25,0.375,0.5,0.625,0.75,0.875,1],"labelOverlap":false,"labelExpr":"(datum.value*8)%2==1?'':format(datum.value,'.2f')","tickOpacity":{"condition":{"test":"(datum.value*8)%2==1","value":0},"value":1},"gridWidth":{"condition":{"test":"(datum.value*8)%2==1","value":1},"value":2}}},"color":{"field":"pH","type":"nominal","scale":{"domain":["Control","pH_8","pH_7"],"range":["#000000","#CB181D","#0F4C92"]},"legend":{"title":"pH","orient":"none","legendX":471,"legendY":160}},"shape":{"field":"pH","type":"nominal","scale":{"domain":["Control","pH_8","pH_7"],"range":["circle","square","triangle-up"]},"legend":{"title":"pH","orient":"none","legendX":471,"legendY":160}},"size":{"field":"pH","type":"nominal","scale":{"type":"ordinal","domain":["Control","pH_8","pH_7"],"range":[410,370,800]},"legend":{"title":"pH","orient":"none","legendX":471,"legendY":160}}}}
],
"config":{
"font":"Liberation Sans",
"view":{"stroke":"#333333","strokeWidth":2},
"axis":{"labelFont":"Liberation Sans","labelFontSize":24,"labelColor":"#4D4D4D","titleFont":"Liberation Sans","titleFontSize":29,"titleFontWeight":"normal","titleColor":"#000000","tickColor":"#333333","tickWidth":2,"tickSize":8,"domain":false,"gridColor":"#EBEBEB","gridWidth":2,"labelPadding":4},
"axisY":{"titlePadding":22},
"axisX":{"titlePadding":8},
"legend":{"titleFont":"Liberation Sans","labelFont":"Liberation Sans","titleFontSize":28,"labelFontSize":24,"titleFontWeight":"normal","titleColor":"#000000","labelColor":"#000000","padding":0,"labelOffset":16,"rowPadding":20,"titlePadding":14,"symbolOpacity":0.8}
}
}
